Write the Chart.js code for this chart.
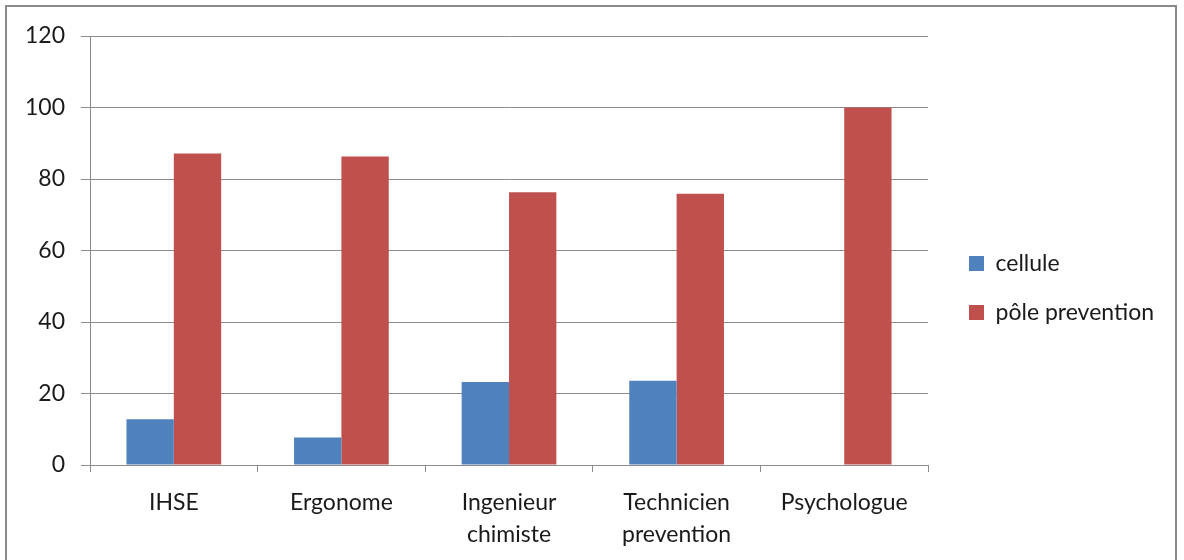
<!DOCTYPE html>
<html>
<head>
<meta charset="utf-8">
<script src="https://cdn.jsdelivr.net/npm/chart.js@4/dist/chart.umd.min.js"></script>
<style>
    html, body { margin: 0; padding: 0; background: #fff; }
    #frame {
        position: absolute; left: 5px; top: 5px; width: 1172px; height: 560px;
        border: 2px solid #8a8a8a; box-sizing: border-box;
    }
    #wrap { position: absolute; left: 0; top: 0; width: 1184px; height: 560px; }
</style>
</head>
<body>
<div id="frame"></div>
<div id="wrap"><canvas id="chart"></canvas></div>
<script>
const categories = ['IHSE', 'Ergonome', ['Ingenieur', 'chimiste'], ['Technicien', 'prevention'], 'Psychologue'];
const celluleValues = [12.8, 7.7, 23.2, 23.6, 0];
const poleValues = [87.1, 86.3, 76.3, 75.9, 100];
const yTicks = [0, 20, 40, 60, 80, 100, 120];

const gridGray = '#8c8c8c';
const textColor = '#1a1a1a';
const fontFamily = 'Lato, "Open Sans", sans-serif';

// nudge the legend: a bit right of the plot and a bit up
const legendShift = {
    id: 'legendShift',
    afterLayout(chart) {
        const lg = chart.legend;
        if (lg) {
            lg.left += 15;
            lg.right += 15;
            lg.top -= 10;
            lg.bottom -= 10;
        }
    }
};

new Chart(document.getElementById('chart'), {
    type: 'bar',
    data: {
        labels: categories,
        datasets: [
            {
                label: 'cellule',
                data: celluleValues,
                backgroundColor: '#4f81bd',
                categoryPercentage: 0.565,
                barPercentage: 1
            },
            {
                label: 'pôle prevention',
                data: poleValues,
                backgroundColor: '#c0504d',
                categoryPercentage: 0.565,
                barPercentage: 1
            }
        ]
    },
    plugins: [legendShift],
    options: {
        responsive: true,
        maintainAspectRatio: false,
        animation: false,
        layout: {
            padding: {top: 36, left: 9, right: 35, bottom: 0}
        },
        plugins: {
            tooltip: {enabled: false},
            legend: {
                position: 'right',
                labels: {
                    color: textColor,
                    boxWidth: 15,
                    boxHeight: 15,
                    padding: 26,
                    font: {family: fontFamily, size: 23}
                }
            }
        },
        scales: {
            x: {
                afterFit: axis => {
                    axis.height = 95;
                },
                grid: {
                    offset: true,
                    drawOnChartArea: false,
                    drawTicks: true,
                    tickLength: 7,
                    color: gridGray
                },
                border: {color: gridGray, width: 1},
                ticks: {
                    color: textColor,
                    padding: 14,
                    maxRotation: 0,
                    font: {family: fontFamily, size: 23, lineHeight: 1.4}
                }
            },
            y: {
                min: 0,
                max: 120,
                afterBuildTicks: axis => {
                    axis.ticks = yTicks.map(v => ({value: v}));
                },
                grid: {
                    color: gridGray,
                    tickLength: 9
                },
                border: {color: gridGray, width: 1},
                ticks: {
                    color: textColor,
                    padding: 16,
                    font: {family: fontFamily, size: 23}
                }
            }
        }
    }
});
</script>
</body>
</html>
